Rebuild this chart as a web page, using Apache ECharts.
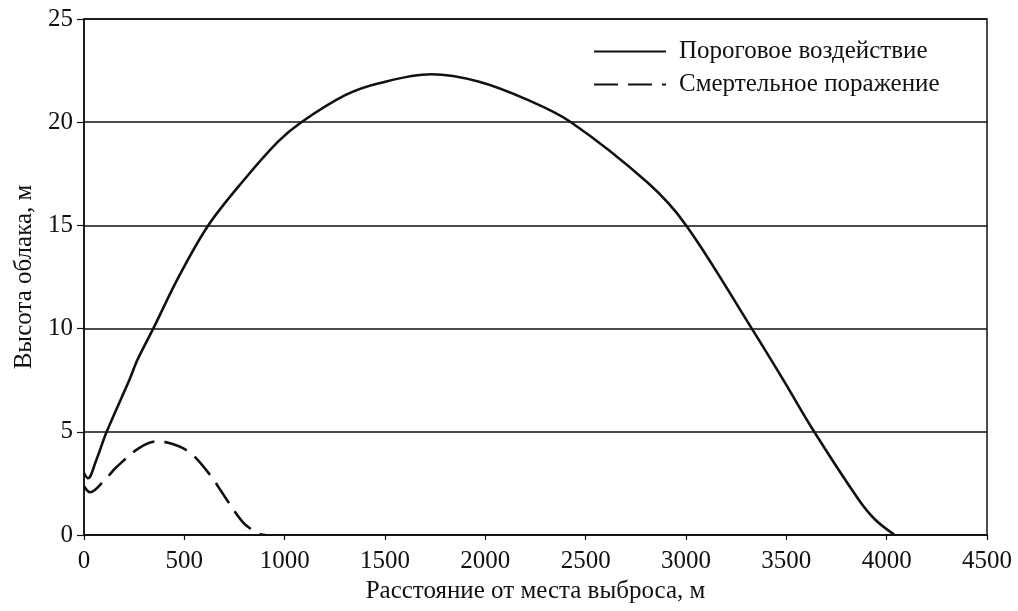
<!DOCTYPE html>
<html>
<head>
<meta charset="utf-8">
<script src="https://cdn.jsdelivr.net/npm/echarts@6/dist/echarts.min.js"></script>
<style>
html,body{margin:0;padding:0;background:#fff;}
#c{width:1018px;height:611px;}
</style>
</head>
<body>
<div id="c"></div>
<script>
const seriesNames = ['Пороговое воздействие', 'Смертельное поражение'];
const xAxisTitle = 'Расстояние от места выброса, м';
const yAxisTitle = 'Высота облака, м';
const xTicks = [0, 500, 1000, 1500, 2000, 2500, 3000, 3500, 4000, 4500];
const yTicks = [0, 5, 10, 15, 20, 25];

const thresholdX = [0, 20, 60, 113, 227, 267, 345, 473, 619, 797, 967, 1083, 1304, 1470, 1731, 1965, 2211, 2427, 2811, 3001, 3328, 3484, 3639, 3860, 3942, 4040];
const thresholdY = [3.0, 2.75, 3.6, 5.0, 7.53, 8.5, 10.0, 12.53, 15.0, 17.2, 19.06, 20.0, 21.32, 21.89, 22.32, 21.97, 21.08, 20.0, 17.05, 15.0, 10.0, 7.53, 5.0, 1.72, 0.75, 0];

const lethalX = [0, 30, 112, 161, 276, 366, 473, 545, 637, 678, 768, 809, 883, 905];
const lethalY = [2.36, 2.07, 2.77, 3.28, 4.22, 4.54, 4.3, 3.85, 2.8, 2.2, 0.91, 0.46, 0.02, 0];

const pair = (xs, ys) => xs.map((x, i) => [x, ys[i]]);
const FONT = 'Liberation Serif';
const INK = '#111';

const chart = echarts.init(document.getElementById('c'), null, {renderer: 'canvas'});
chart.setOption({
  backgroundColor: '#fff',
  animation: false,
  grid: {left: 84, right: 31, top: 19, bottom: 76, show: true, borderColor: INK, borderWidth: 1.5, backgroundColor: 'transparent'},
  legend: {
    orient: 'vertical', left: 588, top: 34,
    itemWidth: 72, itemHeight: 16, itemGap: 8,
    itemStyle: {opacity: 0},
    textStyle: {fontFamily: FONT, fontSize: 25, color: INK, padding: [0, 0, 0, 8]},
    data: seriesNames
  },
  xAxis: {
    type: 'value', min: xTicks[0], max: xTicks[xTicks.length - 1], interval: 500,
    name: xAxisTitle, nameLocation: 'middle', nameGap: 43,
    nameTextStyle: {fontFamily: FONT, fontSize: 25, color: INK},
    axisLine: {show: true, lineStyle: {color: INK, width: 1.5}},
    axisTick: {show: true, inside: false, length: 5, lineStyle: {color: INK, width: 1.2}},
    axisLabel: {fontFamily: FONT, fontSize: 25, color: INK, margin: 14, formatter: v => String(v)},
    splitLine: {show: false}
  },
  yAxis: {
    type: 'value', min: yTicks[0], max: yTicks[yTicks.length - 1], interval: 5,
    name: yAxisTitle, nameLocation: 'middle', nameGap: 40,
    nameTextStyle: {fontFamily: FONT, fontSize: 25, color: INK},
    axisLine: {show: true, lineStyle: {color: INK, width: 1.5}},
    axisTick: {show: true, inside: false, length: 7, lineStyle: {color: INK, width: 1.2}},
    axisLabel: {fontFamily: FONT, fontSize: 25, color: INK, margin: 11, formatter: v => String(v)},
    splitLine: {show: true, lineStyle: {color: INK, width: 1.5}}
  },
  series: [
    {
      name: seriesNames[0], type: 'line', data: pair(thresholdX, thresholdY),
      symbol: 'none', smooth: 0.35,
      lineStyle: {color: INK, width: 2.6, type: 'solid'},
      itemStyle: {color: INK}
    },
    {
      name: seriesNames[1], type: 'line', data: pair(lethalX, lethalY),
      symbol: 'none', smooth: 0.35,
      lineStyle: {color: INK, width: 2.6, type: [24, 10]},
      itemStyle: {color: INK}
    }
  ]
});
</script>
</body>
</html>
